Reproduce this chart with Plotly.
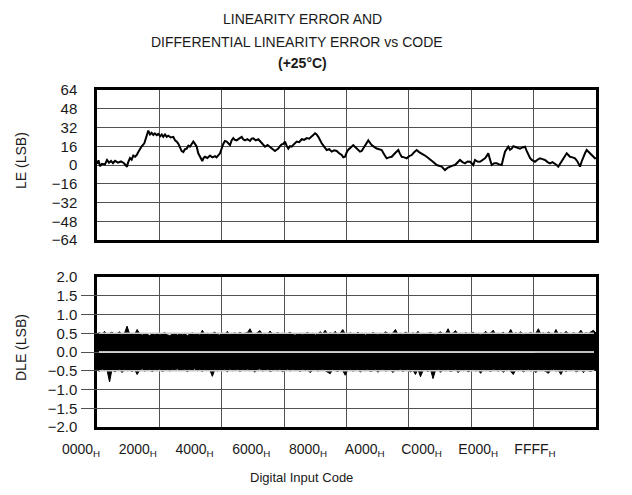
import numpy as np
import plotly.graph_objects as go

# ---------------- data ----------------
le_code = [0, 197, 394, 657, 1051, 1313, 1576, 1839, 2101, 2364, 2758, 3152, 3546, 3940, 4071, 4334,
           4550, 4767, 5000, 5214, 5424, 5650, 5871, 6212, 6527, 6737, 6961, 7180, 7394, 7600, 7841,
           8051, 8300, 8497, 8700, 8931, 9150, 9364, 9700, 10021, 10250, 10467, 10700, 10901, 11100,
           11334, 11560, 11781, 12000, 12214, 12430, 12647, 12870, 13094, 13300, 13527, 13829, 14000,
           14184, 14500, 14841, 15170, 15497, 15700, 15931, 16154, 16587, 16800, 17034, 17250, 17467,
           17680, 17901, 18100, 18347, 18650, 19004, 19200, 19437, 19750, 20094, 20300, 20527, 20850,
           21184, 21400, 21630, 21850, 22064, 22400, 22721, 23050, 23377, 23600, 23811, 24030, 24257,
           24470, 24691, 24900, 25124, 25350, 25570, 25900, 26227, 26550, 26884, 27200, 27540, 27870,
           28197, 28400, 28631, 28850, 29064, 29300, 29510, 29850, 30167, 30500, 30824, 31150, 31480,
           31800, 32137, 32350, 32570, 32800, 33004, 33330, 33660, 33880, 34107, 34320, 34540, 34760,
           34974, 35300, 35630, 35850, 36077, 36400, 36733, 37060, 37390, 37720, 38047, 38370, 38703,
           39130, 39570, 39800, 40016, 40350, 40673, 41000, 41330, 41650, 41986, 42300, 42643, 42970,
           43300, 43620, 43956, 44280, 44613, 44940, 45270, 45500, 45704, 46030, 46360, 46690, 47017,
           47340, 47674, 48000, 48330, 48660, 48987, 49200, 49420, 49644, 49970, 50300, 50630, 50957,
           51170, 51391, 51600, 51837, 52170, 52494, 52820, 53150, 53370, 53584, 53800, 54017, 54240,
           54464, 54680, 54897, 55220, 55554, 55880, 56211, 56430, 56644, 56870, 57091, 57300, 57524,
           57850, 58181, 58500, 58837, 59170, 59494, 59820, 60151, 60370, 60584, 60800, 61031, 61360,
           61687, 61900, 62121, 62450, 62777, 63100, 63434, 63650, 63868, 64090, 64314, 64530, 64747,
           65080, 65404, 65535]
le_value = [1, 4, -1, 1, 0.5, 4.3, 2, 3.5, 1.5, 3.5, 2, 3, 1.5, -1.5, 2, 6,
            4.5, 8, 7, 8.5, 11, 13.5, 16, 18.5, 25.6, 29.3, 26, 27.5, 25.6, 27, 25.5,
            26.5, 24.5, 26, 24, 26, 24, 25, 23.5, 24, 21, 20, 18, 15.6, 12,
            11, 13.5, 14, 16.5, 15.6, 18, 20, 18, 15.6, 10, 7, 3.4, 6,
            7, 6, 8, 6.5, 7.5, 6.5, 8, 10, 18, 20.5, 20, 18.5, 17,
            21, 23, 21.5, 21, 22.5, 24, 22, 21, 22, 20.5, 22.5, 22.7, 21,
            22, 20.5, 18.5, 16.5, 15.6, 17, 15.6, 14, 12, 13, 14, 16, 17.6,
            18, 20, 16.5, 14, 16, 15.6, 18, 20, 19.5, 22, 21.5, 23, 22.5,
            24, 25.5, 27, 26, 24, 21, 18.5, 15.5, 12.8, 13.5, 11.4, 12.5, 12,
            10, 8.5, 6.5, 7, 11, 13, 15, 17, 15.5, 14, 12.5, 11.4, 12,
            14, 17.5, 21, 19, 17, 15.5, 14, 13.5, 12.8, 9, 5.7, 6.5, 7,
            10, 12.8, 9.5, 7, 6.5, 5.7, 7.5, 8.5, 11, 12.8, 11, 10, 8.5,
            7, 5.5, 4.3, 2, 0, -0.5, -1.4, -3, -4.3, -2.5, -1.4, -0.5, 0,
            2.5, 4.3, 2.5, 1.4, 3, 2.8, 1.5, 0, 4.3, 3, 2.8, 4, 5.7,
            7.5, 10, 5, 0, 1.5, 1.4, 0.5, 0, 6, 11.4, 13.5, 15.6, 13,
            14, 16, 15.6, 14.5, 14, 15, 15.6, 12, 8.5, 6, 4.3, 3.5, 2.8,
            4.5, 5.7, 5, 4.3, 2.5, 1.4, 2.5, 1.4, 0, -1.4, 1, 2.8, 6.5,
            10, 8.5, 7, 6.5, 5.7, 3, -1.4, 3, 7, 10, 12.8, 11.5, 10,
            7.5, 5.7, 6]

# DLE: per-bin maximum and minimum (LSB) across the code range
dle_high = [0.48, 0.52, 0.47, 0.55, 0.46, 0.50, 0.53, 0.47, 0.49, 0.54, 0.46, 0.51, 0.69, 0.48, 0.50, 0.47, 0.60, 0.49, 0.45, 0.48,
            0.47, 0.44, 0.49, 0.46, 0.50, 0.45, 0.48, 0.52, 0.46, 0.44, 0.47, 0.50, 0.45, 0.48, 0.46, 0.49, 0.44, 0.47, 0.51, 0.46,
            0.48, 0.45, 0.58, 0.47, 0.50, 0.46, 0.49, 0.53, 0.47, 0.45, 0.50, 0.48, 0.55, 0.46, 0.49, 0.51, 0.47, 0.53, 0.48, 0.50,
            0.52, 0.62, 0.49, 0.47, 0.51, 0.57, 0.48, 0.50, 0.46, 0.56, 0.49, 0.47, 0.52, 0.48, 0.50, 0.46, 0.49, 0.53, 0.47, 0.45,
            0.48, 0.50, 0.46, 0.49, 0.52, 0.47, 0.50, 0.45, 0.48, 0.54, 0.49, 0.58, 0.47, 0.51, 0.48, 0.55, 0.46, 0.50, 0.60, 0.48,
            0.47, 0.51, 0.49, 0.46, 0.53, 0.48, 0.50, 0.45, 0.49, 0.47, 0.52, 0.48, 0.46, 0.50, 0.47, 0.54, 0.49, 0.46, 0.51, 0.60,
            0.48, 0.50, 0.46, 0.53, 0.49, 0.47, 0.51, 0.48, 0.55, 0.46, 0.50, 0.47, 0.49, 0.52, 0.48, 0.46, 0.50, 0.54, 0.47, 0.49,
            0.62, 0.48, 0.51, 0.57, 0.47, 0.50, 0.46, 0.52, 0.48, 0.49, 0.53, 0.47, 0.50, 0.46, 0.49, 0.55, 0.48, 0.51, 0.58, 0.47,
            0.50, 0.48, 0.53, 0.46, 0.49, 0.60, 0.47, 0.51, 0.48, 0.54, 0.46, 0.50, 0.49, 0.52, 0.47, 0.50, 0.62, 0.48, 0.51, 0.47,
            0.53, 0.49, 0.46, 0.60, 0.48, 0.51, 0.47, 0.55, 0.49, 0.46, 0.52, 0.48, 0.50, 0.58, 0.47, 0.51, 0.49, 0.54, 0.58, 0.50]
dle_low = [-0.47, -0.52, -0.45, -0.50, -0.48, -0.80, -0.46, -0.53, -0.49, -0.47, -0.55, -0.46, -0.50, -0.48, -0.52, -0.47, -0.60, -0.49, -0.45, -0.51,
           -0.48, -0.46, -0.53, -0.47, -0.50, -0.45, -0.52, -0.48, -0.46, -0.51, -0.47, -0.49, -0.45, -0.50, -0.48, -0.46, -0.53, -0.47, -0.49, -0.45,
           -0.50, -0.47, -0.52, -0.46, -0.49, -0.48, -0.65, -0.47, -0.51, -0.46, -0.49, -0.47, -0.53, -0.45, -0.50, -0.48, -0.46, -0.52, -0.47, -0.49,
           -0.46, -0.50, -0.48, -0.54, -0.47, -0.45, -0.51, -0.48, -0.46, -0.52, -0.49, -0.47, -0.50, -0.45, -0.53, -0.48, -0.46, -0.51, -0.47, -0.49,
           -0.48, -0.52, -0.46, -0.50, -0.47, -0.55, -0.49, -0.46, -0.51, -0.48, -0.47, -0.50, -0.53, -0.58, -0.46, -0.49, -0.52, -0.47, -0.50, -0.62,
           -0.48, -0.46, -0.51, -0.49, -0.47, -0.53, -0.48, -0.50, -0.46, -0.52, -0.49, -0.47, -0.54, -0.48, -0.46, -0.51, -0.49, -0.47, -0.55, -0.48,
           -0.50, -0.46, -0.52, -0.48, -0.47, -0.53, -0.49, -0.60, -0.46, -0.66, -0.50, -0.48, -0.52, -0.47, -0.71, -0.49, -0.46, -0.54, -0.48, -0.50,
           -0.47, -0.52, -0.49, -0.46, -0.55, -0.48, -0.50, -0.47, -0.53, -0.49, -0.46, -0.51, -0.48, -0.57, -0.47, -0.50, -0.49, -0.52, -0.46, -0.48,
           -0.51, -0.47, -0.54, -0.49, -0.46, -0.52, -0.60, -0.48, -0.50, -0.47, -0.53, -0.49, -0.46, -0.51, -0.48, -0.55, -0.47, -0.50, -0.49, -0.52,
           -0.57, -0.48, -0.46, -0.51, -0.49, -0.60, -0.47, -0.52, -0.48, -0.50, -0.46, -0.53, -0.49, -0.47, -0.55, -0.48, -0.50, -0.52, -0.47, -0.49]

code_ticks = [0, 8192, 16384, 24576, 32768, 40960, 49152, 57344, 65535]
code_labels = ["0000", "2000", "4000", "6000", "8000", "A000", "C000", "E000", "FFFF"]
le_ticks = [-64, -48, -32, -16, 0, 16, 32, 48, 64]
dle_ticks = [-2.0, -1.5, -1.0, -0.5, 0.0, 0.5, 1.0, 1.5, 2.0]

# bin centres for the DLE envelope
dle_code = np.linspace(0, 65535, len(dle_high))

W, H = 632, 495
FONT = "Liberation Sans, Arial, sans-serif"
TXT = "#1a1a1a"

def px_x(p):
    return p / W

def px_y(p):
    return 1 - p / H

fig = go.Figure()

fig.add_trace(go.Scatter(x=le_code, y=le_value, mode="lines",
                         line=dict(color="black", width=2), xaxis="x", yaxis="y",
                         hoverinfo="skip", showlegend=False))

fig.add_trace(go.Scatter(x=dle_code, y=dle_low, mode="lines",
                         line=dict(color="black", width=1), xaxis="x2", yaxis="y2",
                         hoverinfo="skip", showlegend=False))
fig.add_trace(go.Scatter(x=dle_code, y=dle_high, mode="lines", fill="tonexty",
                         fillcolor="black",
                         line=dict(color="black", width=1), xaxis="x2", yaxis="y2",
                         hoverinfo="skip", showlegend=False))
# carrier trace for the labelled code axis
fig.add_trace(go.Scatter(x=[], y=[], xaxis="x3", yaxis="y2", showlegend=False))

dom_x = [px_x(97), px_x(596)]
grid_col = "#555050"
frame = dict(showline=True, mirror=True, linecolor="black", linewidth=2.5, automargin=False)

fig.update_layout(
    width=W, height=H,
    margin=dict(l=0, r=0, t=0, b=0, autoexpand=False),
    paper_bgcolor="white", plot_bgcolor="rgba(0,0,0,0)",
    font=dict(family=FONT, size=14, color=TXT),
    showlegend=False,
    xaxis=dict(domain=dom_x, anchor="y", range=[0, 65535], tickvals=code_ticks,
               showticklabels=False, ticks="", showgrid=True, gridcolor=grid_col,
               gridwidth=1.2, zeroline=False, **frame),
    yaxis=dict(domain=[px_y(240), px_y(90)], anchor="x", range=[-64, 64], tickvals=le_ticks,
               ticks="", showgrid=True, gridcolor=grid_col, gridwidth=1.2, zeroline=False,
               ticklabelstandoff=14, tickfont=dict(size=15, color=TXT), **frame),
    xaxis2=dict(domain=dom_x, anchor="y2", range=[0, 65535], tickvals=code_ticks,
                showticklabels=False, ticks="", showgrid=True, gridcolor=grid_col,
                gridwidth=1.2, zeroline=False, **frame),
    yaxis2=dict(domain=[px_y(427), px_y(277)], anchor="x2", range=[-2, 2], tickvals=dle_ticks,
                tickformat=".1f", ticks="", showgrid=True, gridcolor=grid_col, gridwidth=1.2,
                zeroline=False, ticklabelstandoff=14, tickfont=dict(size=15, color=TXT), **frame),
    xaxis3=dict(domain=[px_x(81), px_x(535)], anchor="y2", range=[0, 65535],
                tickvals=code_ticks, ticktext=[c + "<sub>H</sub>" for c in code_labels],
                ticks="", showgrid=False, zeroline=False, showline=False, automargin=False,
                ticklabelstandoff=12, tickfont=dict(size=14, color=TXT)),
)

# light grid lines that run across the dense DLE band
for yv, col in [(0.5, "#c8c8c8"), (0.0, "white"), (-0.5, "#c8c8c8")]:
    fig.add_shape(type="line", xref="x2 domain", yref="y2", x0=0.004, x1=0.996, y0=yv, y1=yv,
                  line=dict(color=col, width=1.5), layer="above")

ann = [
    dict(text="LINEARITY ERROR AND", x=px_x(302), y=px_y(19), size=14),
    dict(text="DIFFERENTIAL LINEARITY ERROR vs CODE", x=px_x(297), y=px_y(42), size=14),
    dict(text="<b>(+25°C)</b>", x=px_x(302), y=px_y(63), size=14),
    dict(text="Digital Input Code", x=px_x(301), y=px_y(477), size=13),
]
for a in ann:
    fig.add_annotation(text=a["text"], x=a["x"], y=a["y"], xref="paper", yref="paper",
                       showarrow=False, xanchor="center", yanchor="middle",
                       font=dict(family=FONT, size=a["size"], color=TXT))
fig.add_annotation(text="LE (LSB)", x=px_x(21), y=px_y(160), xref="paper", yref="paper",
                   showarrow=False, textangle=-90, xanchor="center", yanchor="middle",
                   font=dict(family=FONT, size=14, color=TXT))
fig.add_annotation(text="DLE (LSB)", x=px_x(21), y=px_y(347), xref="paper", yref="paper",
                   showarrow=False, textangle=-90, xanchor="center", yanchor="middle",
                   font=dict(family=FONT, size=14, color=TXT))

# remove the browser's default page margin so the figure sits at the window origin
fig.write_html("out.html",
               config={"displayModeBar": False},
               post_script="document.body.style.margin='0px';document.body.style.overflow='hidden';")
